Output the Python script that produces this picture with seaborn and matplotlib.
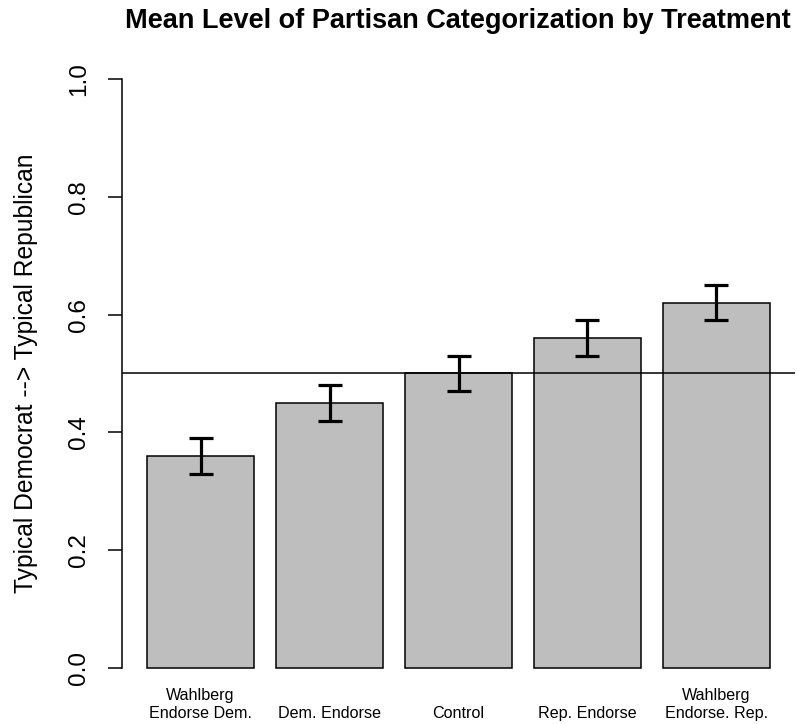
import matplotlib
matplotlib.use("Agg")
import matplotlib.pyplot as plt
import seaborn as sns
import pandas as pd

# Treatment groups, mean partisan categorization and half-width of error bars
treatments = ["Wahlberg\nEndorse Dem.", "Dem. Endorse", "Control",
              "Rep. Endorse", "Wahlberg\nEndorse. Rep."]
means = [0.36, 0.45, 0.50, 0.56, 0.62]
errors = [0.03, 0.03, 0.03, 0.03, 0.03]
y_ticks = [0.0, 0.2, 0.4, 0.6, 0.8, 1.0]
y_tick_labels = ["0.0", "0.2", "0.4", "0.6", "0.8", "1.0"]
reference_level = 0.5

df = pd.DataFrame({"treatment": treatments, "mean": means, "err": errors})

sns.set_style("white")
plt.rcParams["font.family"] = ["Liberation Sans", "DejaVu Sans"]
plt.rcParams.update({"text.color": "black", "axes.labelcolor": "black",
                     "xtick.color": "black", "ytick.color": "black"})

fig = plt.figure(figsize=(7.99, 7.24), dpi=100)
ax = fig.add_axes([0.1527, 0.0448, 0.995 - 0.1527, 0.9235 - 0.0448])

sns.barplot(data=df, x="treatment", y="mean", order=treatments,
            color="#bebebe", saturation=1, width=1 / 1.2,
            edgecolor="black", linewidth=1.1, errorbar=None, ax=ax)

# Error bars around each mean
ax.errorbar(x=list(range(len(treatments))), y=df["mean"], yerr=df["err"],
            fmt="none", ecolor="black", elinewidth=2.3, capsize=8.5,
            capthick=2.3, zorder=5)

# Midpoint reference line
ax.axhline(reference_level, color="black", linewidth=1.1, zorder=4)

ax.set_xlim(-0.61, 4.61)
ax.set_ylim(-0.04, 1.04)

for side in ["top", "right", "bottom"]:
    ax.spines[side].set_visible(False)
ax.spines["left"].set_bounds(0, 1)
ax.spines["left"].set_linewidth(1.1)
ax.spines["left"].set_color("black")

ax.set_yticks(y_ticks)
ax.set_yticklabels(y_tick_labels, rotation=90, va="center", fontsize=17.5)
ax.tick_params(axis="y", direction="out", length=10, width=1.1,
               color="black", labelcolor="black", pad=13, left=True)

ax.set_xticks(range(len(treatments)))
ax.set_xticklabels(treatments, fontsize=11.6, va="bottom", linespacing=1.25)
ax.tick_params(axis="x", length=0, pad=21, labelcolor="black")

ax.set_xlabel("")
ax.set_ylabel("Typical Democrat --> Typical Republican", fontsize=17.7,
              labelpad=22, color="black")

fig.text(0.5727, 1 - 28 / 724, "Mean Level of Partisan Categorization by Treatment",
         ha="center", va="baseline", fontsize=19.5, fontweight="bold",
         color="black")

fig.savefig("out.png", dpi=100)
